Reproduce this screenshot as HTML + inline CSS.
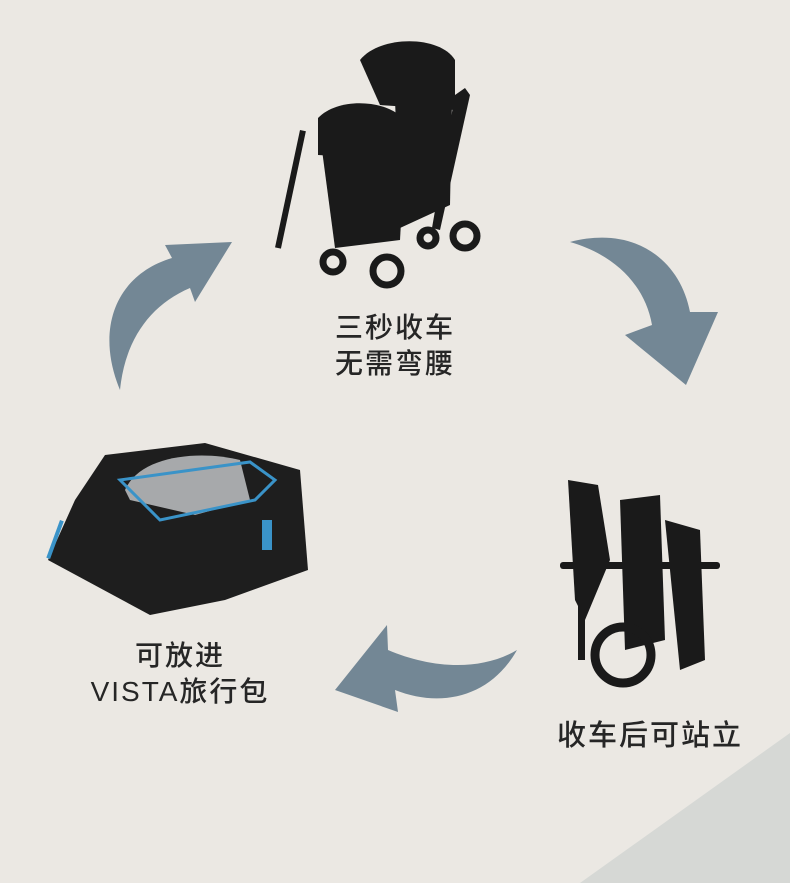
<!DOCTYPE html>
<html><head><meta charset="utf-8"><style>
body{margin:0;width:790px;height:883px;background:#ebe8e3;overflow:hidden;font-family:"Liberation Sans","Noto Sans CJK SC",sans-serif}
svg{position:absolute;left:0;top:0}
.t{position:absolute;color:#262626;font-size:28px;letter-spacing:2px;line-height:36px;text-align:center;font-weight:500}
</style></head><body>
<svg width="790" height="883" viewBox="0 0 790 883">
<polygon points="790,733 790,883 580,883" fill="#d6d8d5"/>
<g fill="#738795">
<path d="M120,390 C95,330 115,275 172,258 L165,245 L232,242 L195,302 L190,288 C150,305 125,340 120,390 Z"/>
<path d="M570,242 C635,225 680,260 690,312 L718,312 L686,385 L625,335 L652,325 C645,285 615,255 570,242 Z"/>
<path d="M517,650 C490,698 440,708 395,690 L398,712 L335,690 L387,625 L388,650 C430,668 480,672 517,650 Z"/>
</g>
<g fill="#1a1a1a">
<path d="M360,60 C380,35 440,35 455,60 L455,110 L380,105 Z"/>
<path d="M318,118 C340,95 395,100 408,125 L405,160 L318,155 Z"/>
<path d="M322,150 L405,150 L400,240 L335,248 Z"/>
<path d="M395,100 L452,100 L450,205 L400,228 Z"/>
<rect x="300" y="130" width="6" height="120" transform="rotate(12 300 130)"/>
<path d="M455,95 L465,88 L470,95 L440,230 L432,228 Z"/>
</g>
<g fill="none" stroke="#1a1a1a" stroke-width="7">
<circle cx="387" cy="271" r="14"/><circle cx="465" cy="236" r="12"/><circle cx="333" cy="262" r="10"/><circle cx="428" cy="238" r="8"/>
</g>
<g fill="#1a1a1a">
<path d="M568,480 L598,485 L610,560 L585,620 L575,600 Z"/>
<path d="M620,500 L660,495 L665,640 L625,650 Z"/>
<path d="M665,520 L700,530 L705,660 L680,670 Z"/>
<rect x="578" y="560" width="7" height="100"/>
<rect x="560" y="562" width="160" height="7" rx="3"/>
</g>
<circle cx="623" cy="655" r="28" fill="none" stroke="#1a1a1a" stroke-width="9"/>
<path d="M48,560 L75,500 L105,455 L205,443 L300,470 L308,570 L225,600 L150,615 Z" fill="#1e1e1e"/>
<path d="M125,490 C140,455 200,450 240,460 L250,500 L195,515 L130,500 Z" fill="#a7a9ab"/>
<path d="M120,480 L250,462 L275,480 L255,500 L160,520 Z" fill="none" stroke="#3a93c8" stroke-width="3"/>
<rect x="262" y="520" width="10" height="30" fill="#3a93c8"/>
<rect x="60" y="520" width="4" height="40" fill="#3a93c8" transform="rotate(20 60 520)"/>
</svg>
<div class="t" style="left:315px;top:310px;width:160px">三秒收车<br>无需弯腰</div>
<div class="t" style="left:60px;top:638px;width:240px">可放进<br>VISTA旅行包</div>
<div class="t" style="left:530px;top:718px;width:240px;font-size:29px">收车后可站立</div>
</body></html>
